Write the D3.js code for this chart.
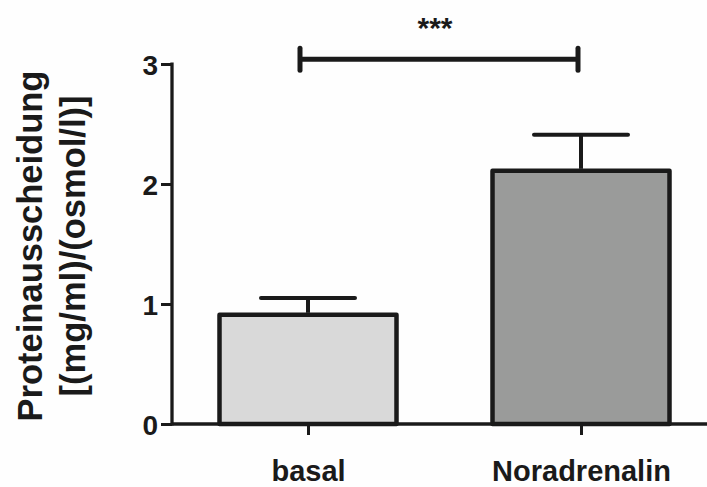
<!DOCTYPE html>
<html>
<head>
<meta charset="utf-8">
<script src="https://cdn.jsdelivr.net/npm/d3@7"></script>
<style>
  html, body { margin: 0; padding: 0; background: #fefefe; }
  svg { display: block; font-family: "Liberation Sans", Arial, sans-serif; }
</style>
</head>
<body>
<svg id="chart" width="707" height="487"></svg>
<script>
// ---- data ----
const categories = ["basal", "Noradrenalin"];
const means = [0.91, 2.11];
const sem = [0.14, 0.30];
const fills = ["#d9d9d9", "#9a9b9a"];
const yTicks = [0, 1, 2, 3];
const yLabelLines = ["Proteinausscheidung", "[(mg/ml)/(osmol/l)]"];
const significance = "***";
const sigLevel = 3.04;

// ---- layout ----
const W = 707, H = 487;
const axisLeft = 172, axisRight = 707;
const ink = "#1a1a1a";
const svg = d3.select("#chart");

const y = d3.scaleLinear().domain([0, 3]).range([424, 64]);
const x = d3.scalePoint().domain(categories).range([308, 581]);
const barW = 177;
const capHalf = 47;

// bars
svg.selectAll("rect.bar").data(categories).enter().append("rect")
  .attr("class", "bar")
  .attr("x", d => x(d) - barW / 2)
  .attr("width", barW)
  .attr("y", (d, i) => y(means[i]))
  .attr("height", (d, i) => y(0) - y(means[i]))
  .attr("fill", (d, i) => fills[i])
  .attr("stroke", ink)
  .attr("stroke-width", 4.5)
  .attr("stroke-linejoin", "round");

// error bars
const eb = svg.selectAll("g.err").data(categories).enter().append("g").attr("class", "err");
eb.append("line")
  .attr("x1", d => x(d)).attr("x2", d => x(d))
  .attr("y1", (d, i) => y(means[i]) - 2)
  .attr("y2", (d, i) => y(means[i] + sem[i]))
  .attr("stroke", ink).attr("stroke-width", 4);
eb.append("line")
  .attr("x1", d => x(d) - capHalf).attr("x2", d => x(d) + capHalf)
  .attr("y1", (d, i) => y(means[i] + sem[i]))
  .attr("y2", (d, i) => y(means[i] + sem[i]))
  .attr("stroke", ink).attr("stroke-width", 4).attr("stroke-linecap", "round");

// y axis
const yAxisG = svg.append("g").attr("transform", `translate(${axisLeft},0)`)
  .call(d3.axisLeft(y).tickValues(yTicks).tickFormat(d3.format("d")).tickSize(11).tickPadding(3));
yAxisG.select(".domain").remove();
yAxisG.append("line").attr("x1", 0).attr("x2", 0).attr("y1", y(3) - 1.5).attr("y2", y(0) + 1.5)
  .attr("stroke", ink).attr("stroke-width", 3.3);
yAxisG.selectAll(".tick line").attr("stroke", ink).attr("stroke-width", 3);
yAxisG.selectAll(".tick text").attr("fill", ink)
  .style("font-size", "28px").style("font-weight", "bold")
  .attr("dy", "0.36em");

// x axis
const xAxisG = svg.append("g").attr("transform", `translate(0,${y(0)})`)
  .call(d3.axisBottom(x).tickSize(11).tickPadding(25).tickSizeOuter(0));
xAxisG.select(".domain").remove();
xAxisG.append("line").attr("x1", axisLeft).attr("x2", axisRight).attr("y1", 0).attr("y2", 0)
  .attr("stroke", ink).attr("stroke-width", 3.3);
xAxisG.selectAll(".tick line").attr("stroke", ink).attr("stroke-width", 3);
xAxisG.selectAll(".tick text").attr("fill", ink)
  .style("font-size", "29px").style("font-weight", "bold")
  .attr("dy", "0.71em");

// y label
const yl = svg.append("text")
  .attr("transform", "translate(0,246) rotate(-90)")
  .attr("text-anchor", "middle")
  .attr("fill", ink)
  .style("font-size", "34.5px").style("font-weight", "bold");
yl.selectAll("tspan").data(yLabelLines).enter().append("tspan")
  .attr("x", 0)
  .attr("y", (d, i) => 42 + i * 43)
  .text(d => d);

// significance bracket
const bx1 = x(categories[0]) - 8, bx2 = x(categories[1]) - 3;
const by = y(sigLevel);
svg.append("line").attr("x1", bx1).attr("x2", bx2).attr("y1", by).attr("y2", by)
  .attr("stroke", ink).attr("stroke-width", 5);
[bx1, bx2].forEach(bx => {
  svg.append("line").attr("x1", bx).attr("x2", bx).attr("y1", by - 11).attr("y2", by + 11)
    .attr("stroke", ink).attr("stroke-width", 5).attr("stroke-linecap", "round");
});
svg.append("text")
  .attr("x", (bx1 + bx2) / 2 - 4).attr("y", 38)
  .attr("text-anchor", "middle").attr("fill", ink)
  .style("font-size", "30px").style("font-weight", "bold")
  .text(significance);
</script>
</body>
</html>
